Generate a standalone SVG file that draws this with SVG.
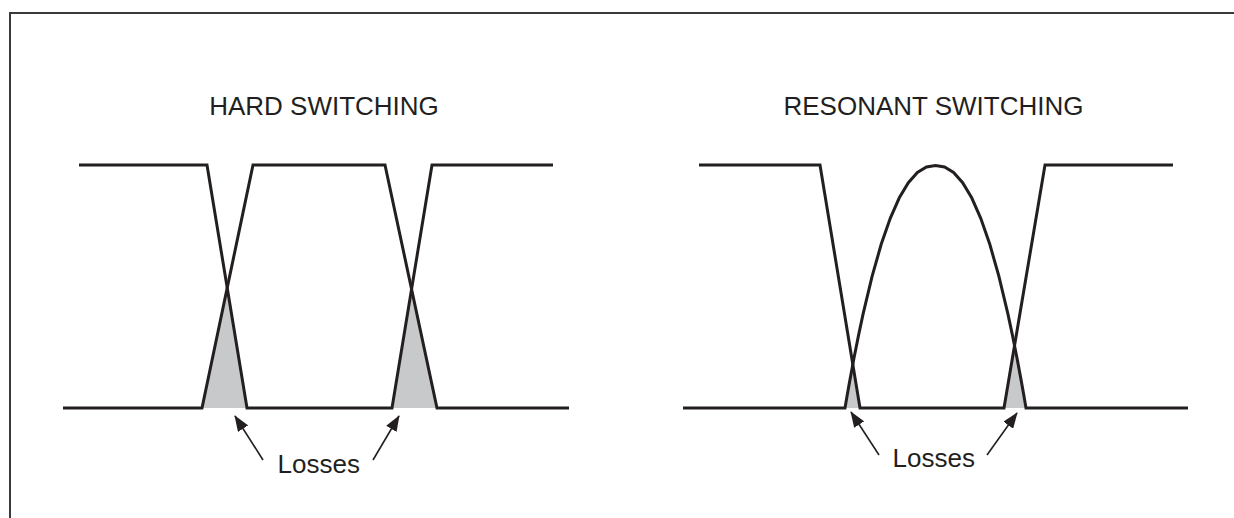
<svg xmlns="http://www.w3.org/2000/svg" width="1234" height="518" viewBox="0 0 1234 518">
<style>
.frame{fill:none;stroke:#3a3a3a;stroke-width:2}
.sig{fill:none;stroke:#231f20;stroke-width:3;stroke-linejoin:miter;stroke-miterlimit:10}
.loss{fill:#c8c9cb;stroke:none}
.lbl{font-family:"Liberation Sans",Arial,sans-serif;font-size:26px;fill:#231f20;text-anchor:middle}
.arr{fill:none;stroke:#231f20;stroke-width:1.6}
</style>
<defs>
<marker id="ah" viewBox="0 0 16 12" refX="15" refY="6" markerWidth="16" markerHeight="12" markerUnits="userSpaceOnUse" orient="auto">
<path d="M0,0 L16,6 L0,12 z" fill="#231f20"/>
</marker>
</defs>
<rect width="1234" height="518" fill="#ffffff"/>
<path class="frame" d="M10,522 L10,13 L1236,13"/>

<g id="hard">
<text class="lbl" x="324" y="115">HARD SWITCHING</text>
<polygon class="loss" points="227,287 202,408 247,408"/>
<polygon class="loss" points="411,290 392,408 437,408"/>
<polyline class="sig" points="79,165 207,165 247,408 392,408 432,165 553,165"/>
<polyline class="sig" points="63,408 202,408 253,165 385,165 437,408 569,408"/>
</g>

<g id="resonant">
<text class="lbl" x="933.5" y="115">RESONANT SWITCHING</text>
<polygon class="loss" points="853,368 849.525,382.13 847.26,394.86 845,408 860,408"/>
<polygon class="loss" points="1014.5,346 1004,408 1026,408 1023.74,394.86 1021.475,382.13 1016.95,357.83"/>
<polyline class="sig" points="699,165 820,165 860,408 1004,408 1045,165 1173,165"/>
<polyline class="sig" points="683,408 845,408 847.26,394.86 849.525,382.13 854.05,357.83 858.575,335.1 863.1,313.93 872.15,276.15 881.2,244.31 890.25,218.27 899.3,197.8 908.35,182.65 917.4,172.53 926.45,167.03 935.5,165.5 944.55,167.03 953.6,172.53 962.65,182.65 971.7,197.8 980.75,218.27 989.8,244.31 998.85,276.15 1007.9,313.93 1012.425,335.1 1016.95,357.83 1021.475,382.13 1023.74,394.86 1026,408 1188,408"/>
</g>

<g id="labels">
<text class="lbl" x="318.7" y="473">Losses</text>
<text class="lbl" x="933.8" y="467">Losses</text>
</g>

<g id="connectors">
<line class="arr" x1="263" y1="460" x2="235" y2="416" marker-end="url(#ah)"/>
<line class="arr" x1="373" y1="460" x2="399" y2="416" marker-end="url(#ah)"/>
<line class="arr" x1="879" y1="455" x2="851" y2="412" marker-end="url(#ah)"/>
<line class="arr" x1="987" y1="455" x2="1017" y2="413" marker-end="url(#ah)"/>
</g>
</svg>
